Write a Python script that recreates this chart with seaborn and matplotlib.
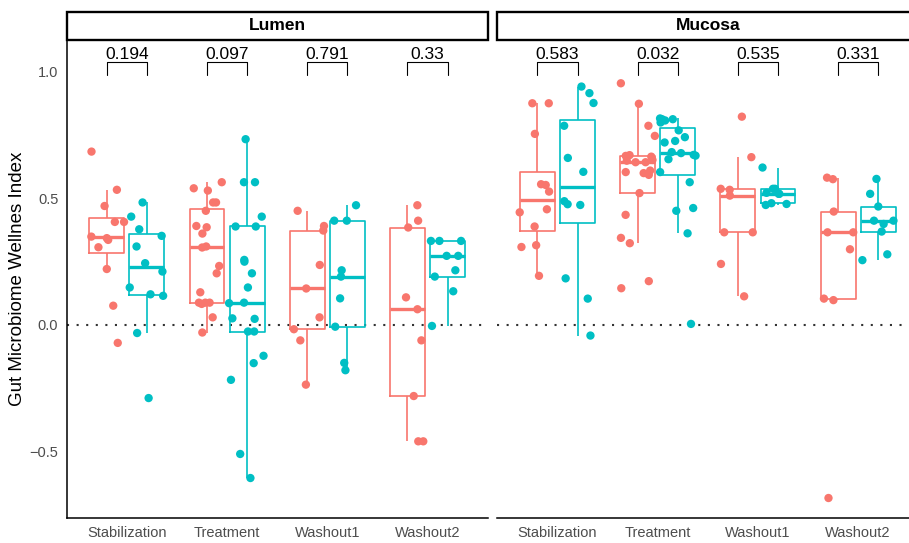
import numpy as np
import pandas as pd
import matplotlib
matplotlib.use("Agg")
import matplotlib.pyplot as plt
from matplotlib.patches import Rectangle
import seaborn as sns

# ---------------- data ----------------
sites = ["Lumen", "Mucosa"]
phases = ["Stabilization", "Treatment", "Washout1", "Washout2"]
groups = ["Group A", "Group B"]
palette = ["#F8766D", "#00BFC4"]

p_lumen = ["0.194", "0.097", "0.791", "0.33"]
p_mucosa = ["0.583", "0.032", "0.535", "0.331"]

lumen_stab_a = [0.685, 0.534, 0.470, 0.407, 0.407, 0.336, 0.343, 0.349, 0.307, 0.221, 0.076, -0.071]
lumen_stab_b = [0.484, 0.428, 0.378, 0.352, 0.310, 0.244, 0.211, 0.148, 0.121, 0.115, -0.032, -0.289]
lumen_treat_a = [0.564, 0.540, 0.531, 0.484, 0.484, 0.451, 0.391, 0.386, 0.361, 0.310, 0.306, 0.233,
                 0.204, 0.129, 0.088, 0.088, 0.088, 0.083, 0.030, -0.030]
lumen_treat_b = [0.734, 0.564, 0.564, 0.428, 0.389, 0.389, 0.257, 0.250, 0.204, 0.148, 0.088, 0.086,
                 0.026, 0.024, -0.026, -0.026, -0.122, -0.151, -0.217, -0.510, -0.605]
lumen_wash1_a = [0.451, 0.391, 0.373, 0.237, 0.144, 0.030, -0.017, -0.061, -0.236]
lumen_wash1_b = [0.473, 0.412, 0.412, 0.216, 0.191, 0.105, -0.007, -0.150, -0.179]
lumen_wash2_a = [0.473, 0.412, 0.385, 0.109, 0.062, -0.061, -0.281, -0.460, -0.460]
lumen_wash2_b = [0.332, 0.332, 0.332, 0.273, 0.273, 0.216, 0.191, 0.133, -0.004]

mucosa_stab_a = [0.876, 0.876, 0.755, 0.556, 0.553, 0.527, 0.457, 0.445, 0.389, 0.315, 0.308, 0.194]
mucosa_stab_b = [0.942, 0.916, 0.877, 0.787, 0.660, 0.605, 0.489, 0.477, 0.474, 0.184, 0.104, -0.042]
mucosa_treat_a = [0.955, 0.874, 0.787, 0.747, 0.671, 0.668, 0.665, 0.652, 0.649, 0.643, 0.643, 0.610,
                  0.604, 0.600, 0.593, 0.521, 0.435, 0.344, 0.323, 0.173, 0.145]
mucosa_treat_b = [0.816, 0.813, 0.813, 0.808, 0.800, 0.769, 0.742, 0.727, 0.721, 0.683, 0.679, 0.672,
                  0.669, 0.655, 0.604, 0.564, 0.462, 0.451, 0.362, 0.004]
mucosa_wash1_a = [0.823, 0.663, 0.538, 0.534, 0.511, 0.366, 0.366, 0.241, 0.113]
mucosa_wash1_b = [0.622, 0.538, 0.538, 0.522, 0.518, 0.518, 0.481, 0.478, 0.474]
mucosa_wash2_a = [0.582, 0.576, 0.448, 0.366, 0.366, 0.299, 0.104, 0.098, -0.684]
mucosa_wash2_b = [0.577, 0.518, 0.468, 0.412, 0.412, 0.399, 0.369, 0.279, 0.256]

series = {
    ("Lumen", "Stabilization", "Group A"): lumen_stab_a,
    ("Lumen", "Stabilization", "Group B"): lumen_stab_b,
    ("Lumen", "Treatment", "Group A"): lumen_treat_a,
    ("Lumen", "Treatment", "Group B"): lumen_treat_b,
    ("Lumen", "Washout1", "Group A"): lumen_wash1_a,
    ("Lumen", "Washout1", "Group B"): lumen_wash1_b,
    ("Lumen", "Washout2", "Group A"): lumen_wash2_a,
    ("Lumen", "Washout2", "Group B"): lumen_wash2_b,
    ("Mucosa", "Stabilization", "Group A"): mucosa_stab_a,
    ("Mucosa", "Stabilization", "Group B"): mucosa_stab_b,
    ("Mucosa", "Treatment", "Group A"): mucosa_treat_a,
    ("Mucosa", "Treatment", "Group B"): mucosa_treat_b,
    ("Mucosa", "Washout1", "Group A"): mucosa_wash1_a,
    ("Mucosa", "Washout1", "Group B"): mucosa_wash1_b,
    ("Mucosa", "Washout2", "Group A"): mucosa_wash2_a,
    ("Mucosa", "Washout2", "Group B"): mucosa_wash2_b,
}
rows = []
for (site, phase, grp), vals in series.items():
    for v in vals:
        rows.append({"Site": site, "Phase": phase, "Group": grp, "Index": v})
df = pd.DataFrame(rows)
pvals = {"Lumen": p_lumen, "Mucosa": p_mucosa}

# ---------------- style ----------------
sns.set_style("white")
plt.rcParams["font.family"] = ["Liberation Sans", "DejaVu Sans"]
np.random.seed(7)

W, H = 909, 543
fig = plt.figure(figsize=(W / 100, H / 100), dpi=100)
ax_w = (487.6 - 66.7) / W
ax_b = (H - 518) / H
ax_h = 478 / H
ax_l = fig.add_axes([66.7 / W, ax_b, ax_w, ax_h])
ax_r = fig.add_axes([497.4 / W, ax_b, ax_w, ax_h])

for ax, site in zip([ax_l, ax_r], sites):
    d = df[df["Site"] == site]
    ax.axhline(0, color="#333333", ls=(0, (1, 3.6)), lw=1.5, zorder=0)
    sns.boxplot(data=d, x="Phase", y="Index", hue="Group", order=phases,
                hue_order=groups, palette=palette, fill=False, width=0.8,
                gap=0.13, showfliers=False, showcaps=False, linewidth=1.2,
                medianprops={"linewidth": 2.4}, legend=False, ax=ax)
    sns.stripplot(data=d, x="Phase", y="Index", hue="Group", order=phases,
                  hue_order=groups, palette=palette, dodge=True, jitter=0.36,
                  size=6, linewidth=0, legend=False, ax=ax, zorder=3)
    ax.set_xlim(-0.6, 3.6)
    ax.set_ylim(-0.763, 1.126)
    ax.set_xlabel("")
    ax.set_ylabel("")
    for s in ["top", "right"]:
        ax.spines[s].set_visible(False)
    for s in ["left", "bottom"]:
        ax.spines[s].set_linewidth(1.1)
        ax.spines[s].set_color("black")
    ax.tick_params(axis="both", length=3, width=0.8, color="#333333",
                   labelsize=10.5, labelcolor="#4D4D4D", pad=3)
    # significance brackets
    for i, p in enumerate(pvals[site]):
        ax.plot([i - 0.2, i - 0.2, i + 0.2, i + 0.2], [0.988, 1.038, 1.038, 0.988],
                color="black", lw=0.8, zorder=4)
        ax.text(i, 1.051, p, ha="center", va="baseline", fontsize=12.5, color="black")
    # facet strip
    ax.add_patch(Rectangle((0, 1.0), 1, 28 / 478, transform=ax.transAxes,
                           facecolor="white", edgecolor="black", lw=1.7, clip_on=False))
    ax.text(0.5, 1.0 + 14 / 478, site, transform=ax.transAxes, ha="center",
            va="center", fontsize=12.5, fontweight="bold", color="black")

ax_l.set_yticks([-0.5, 0.0, 0.5, 1.0])
ax_l.set_ylabel("Gut Microbiome Wellnes Index", fontsize=13.5, color="black")
ax_l.yaxis.set_label_coords(-0.097, 0.5)

ax_r.spines["left"].set_visible(False)
ax_r.tick_params(axis="y", left=False, labelleft=False)

fig.savefig("out.png", dpi=100)
